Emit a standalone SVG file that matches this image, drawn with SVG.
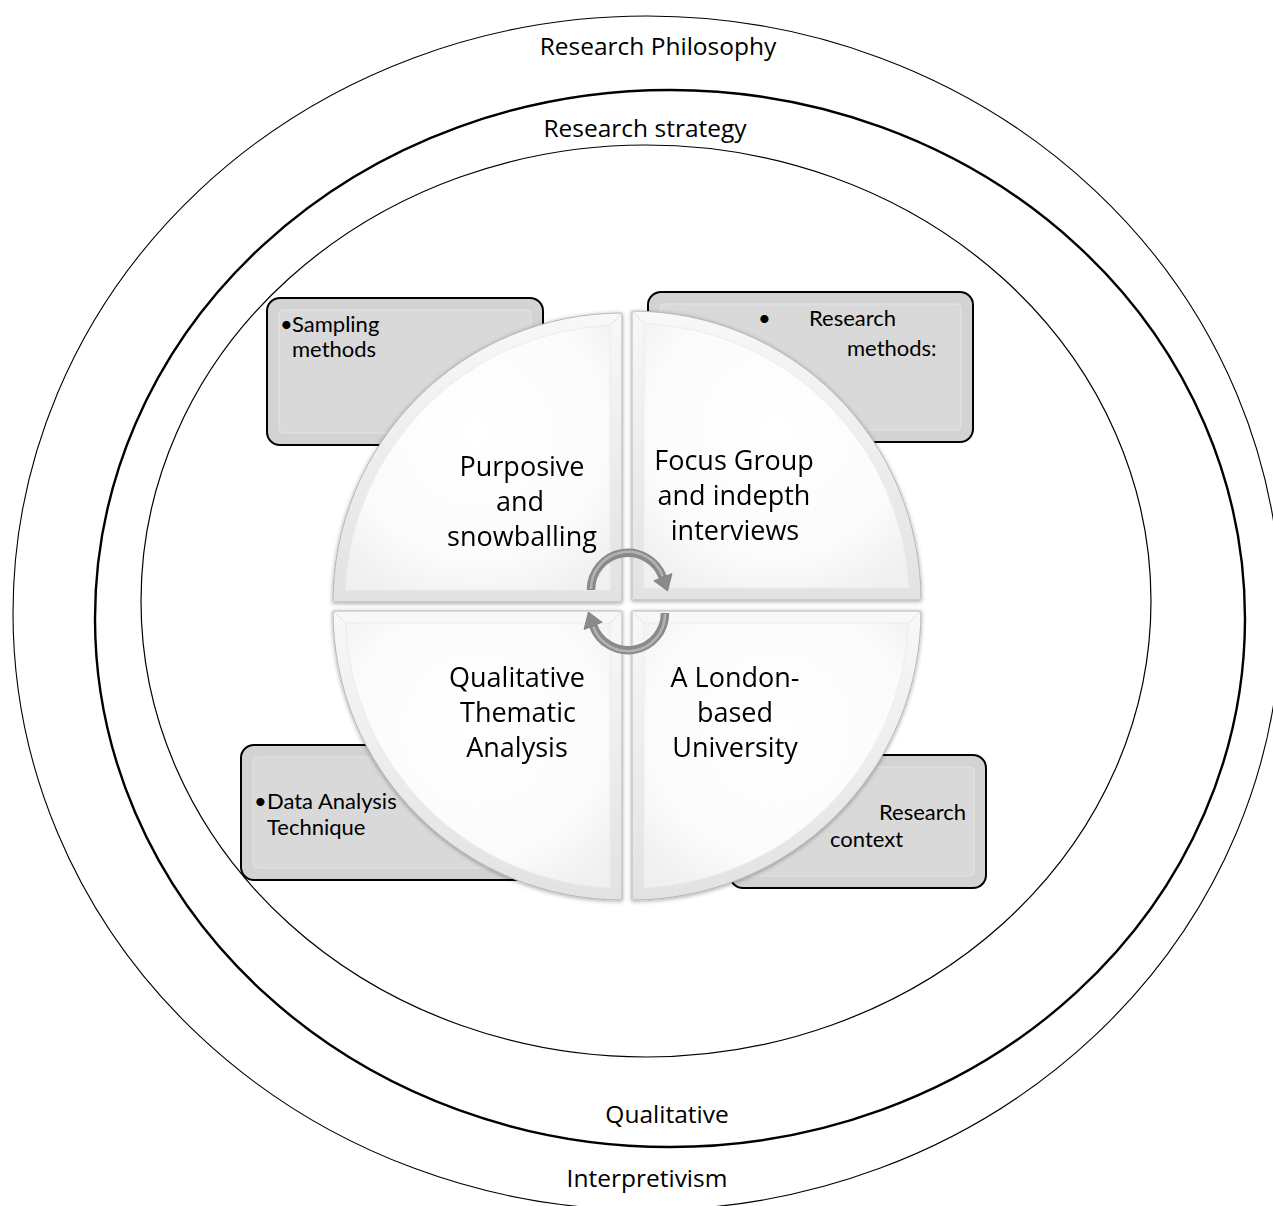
<svg xmlns="http://www.w3.org/2000/svg" width="1273" height="1206" viewBox="0 0 1273 1206">
<style>
.ring{fill:none;stroke:#000}
.lbl{font-family:"Open Sans","Noto Sans",sans-serif;font-size:24.5px;fill:#000;text-anchor:middle}
.box{fill:#d3d3d3;stroke:#000;stroke-width:2}
.boxin{fill:#d9d9d9;stroke:#e4e4e4;stroke-width:1}
.btxt{font-family:Lato,"Open Sans",sans-serif;font-size:22px;fill:#000}
.qout{fill:url(#bevel);stroke:#b5b5b5;stroke-width:1}
.qin{fill:url(#face);stroke:#ececec;stroke-width:1}
.qdiag{stroke:#e2e2e2;stroke-width:1}
.qtxt{font-family:"Open Sans","Noto Sans",sans-serif;font-size:27px;fill:#000;text-anchor:middle}
.arc{fill:none;stroke:#8a8a8a;stroke-width:8.5}
.archi{fill:none;stroke:#b3b3b3;stroke-width:2.5}
.head{fill:#8a8a8a;stroke:#7a7a7a;stroke-width:0.8}
</style>
<defs>
<linearGradient id="bevel" x1="0" y1="0" x2="0" y2="1">
<stop offset="0" stop-color="#f8f8f8"/>
<stop offset="1" stop-color="#e2e2e2"/>
</linearGradient>
<radialGradient id="face" cx="0.5" cy="0.4" r="0.7">
<stop offset="0" stop-color="#ffffff"/>
<stop offset="0.7" stop-color="#fbfbfb"/>
<stop offset="1" stop-color="#f0f0f0"/>
</radialGradient>
<filter id="sh" x="-10%" y="-10%" width="120%" height="120%">
<feDropShadow dx="0" dy="1" stdDeviation="2" flood-color="#000" flood-opacity="0.35"/>
</filter>
</defs>
<rect width="1273" height="1206" fill="#fff"/>

<g id="ring-philosophy">
<ellipse class="ring" cx="647" cy="613" rx="634" ry="597" stroke-width="1.1"/>
<text class="lbl" x="658" y="55">Research Philosophy</text>
<text class="lbl" x="647" y="1187">Interpretivism</text>
</g>
<g id="ring-strategy">
<ellipse class="ring" cx="670" cy="618.5" rx="575" ry="528.5" stroke-width="2.4"/>
<text class="lbl" x="645" y="137">Research strategy</text>
<text class="lbl" x="667" y="1123">Qualitative</text>
</g>
<g id="ring-inner">
<ellipse class="ring" cx="646" cy="601" rx="505" ry="456" stroke-width="1.2"/>
</g>

<g id="box-sampling">
<rect class="box" x="267" y="298" width="276" height="147" rx="13"/>
<rect class="boxin" x="279" y="310" width="252" height="123" rx="4"/>
<text class="btxt" x="280" y="332">•<tspan x="292">Sampling</tspan><tspan x="292" y="357">methods</tspan></text>
</g>
<g id="box-methods">
<rect class="box" x="648" y="292" width="325" height="150" rx="13"/>
<rect class="boxin" x="660" y="304" width="301" height="126" rx="4"/>
<text class="btxt" x="758" y="326">•<tspan x="809">Research</tspan><tspan x="847" y="356">methods:</tspan></text>
</g>
<g id="box-analysis">
<rect class="box" x="241" y="745" width="300" height="135" rx="13"/>
<rect class="boxin" x="253" y="757" width="276" height="111" rx="4"/>
<text class="btxt" x="254" y="809">•<tspan x="267">Data Analysis</tspan><tspan x="267" y="835">Technique</tspan></text>
</g>
<g id="box-context">
<rect class="box" x="730" y="755" width="256" height="133" rx="13"/>
<rect class="boxin" x="742" y="767" width="232" height="109" rx="4"/>
<text class="btxt" x="879" y="820">Research<tspan x="830" y="847">context</tspan></text>
</g>

<g id="q-sampling" filter="url(#sh)">
<path class="qout" d="M622,602 L333,602 A289,289 0 0 1 622,313 Z"/>
<path class="qin" d="M610,590 L345.3,590 A277,277 0 0 1 610,325.3 Z"/>
<path class="qdiag" d="M622,602 L610,590 M333,602 L345.3,590 M622,313 L610,325.3"/>
<text class="qtxt" x="522" y="476">Purposive</text>
<text class="qtxt" x="520" y="511">and</text>
<text class="qtxt" x="522" y="546">snowballing</text>
</g>
<g id="q-methods" filter="url(#sh)">
<path class="qout" d="M632,600 L632,311 A289,289 0 0 1 921,600 Z"/>
<path class="qin" d="M644,588 L644,323.3 A277,277 0 0 1 908.7,588 Z"/>
<path class="qdiag" d="M632,600 L644,588 M632,311 L644,323.3 M921,600 L908.7,588"/>
<text class="qtxt" x="734" y="470">Focus Group</text>
<text class="qtxt" x="734" y="505">and indepth</text>
<text class="qtxt" x="735" y="540">interviews</text>
</g>
<g id="q-analysis" filter="url(#sh)">
<path class="qout" d="M622,611 L622,900 A289,289 0 0 1 333,611 Z"/>
<path class="qin" d="M610,623 L610,887.7 A277,277 0 0 1 345.3,623 Z"/>
<path class="qdiag" d="M622,611 L610,623 M622,900 L610,887.7 M333,611 L345.3,623"/>
<text class="qtxt" x="517" y="687">Qualitative</text>
<text class="qtxt" x="518" y="722">Thematic</text>
<text class="qtxt" x="517" y="757">Analysis</text>
</g>
<g id="q-context" filter="url(#sh)">
<path class="qout" d="M632,611 L921,611 A289,289 0 0 1 632,900 Z"/>
<path class="qin" d="M644,623 L908.7,623 A277,277 0 0 1 644,887.7 Z"/>
<path class="qdiag" d="M632,611 L644,623 M921,611 L908.7,623 M632,900 L644,887.7"/>
<text class="qtxt" x="735" y="687">A London-</text>
<text class="qtxt" x="735" y="722">based</text>
<text class="qtxt" x="735" y="757">University</text>
</g>

<g id="connectors">
<path class="arc" d="M591,590 A37,37 0 0 1 662.8,577.3"/>
<path class="archi" d="M591,589 A37,37 0 0 1 662.8,576.3"/>
<path class="head" d="M672,573.5 L667.6,591 L653.8,580.8 Z"/>
<path class="arc" d="M665,613 A37,37 0 0 1 593.2,625.7"/>
<path class="archi" d="M665,614 A37,37 0 0 1 593.2,626.7"/>
<path class="head" d="M584,629.5 L588.4,612 L602.2,622.2 Z"/>
</g>
</svg>
